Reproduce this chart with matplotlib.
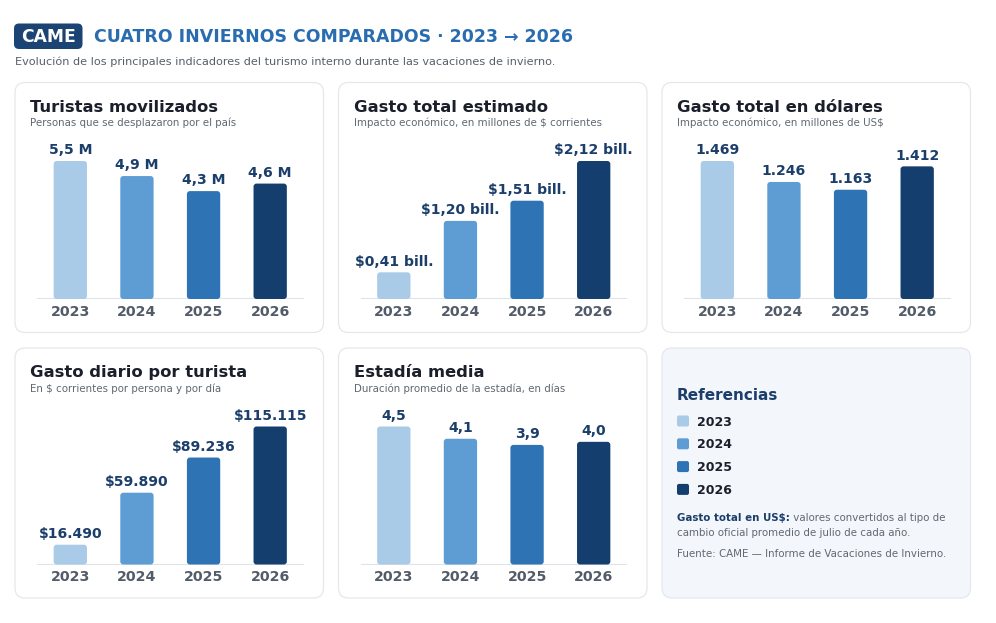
import matplotlib.pyplot as plt
from matplotlib.patches import FancyBboxPatch

plt.rcParams['font.family'] = ['DejaVu Sans']

W, H = 996, 623

years = ['2023', '2024', '2025', '2026']
colors = ['#a9cbe8', '#5e9dd4', '#2e73b4', '#143e6e']

turistas = [5.5, 4.9, 4.3, 4.6]
gasto_total = [0.41, 1.20, 1.51, 2.12]
gasto_usd = [1469, 1246, 1163, 1412]
gasto_diario = [16490, 59890, 89236, 115115]
estadia = [4.5, 4.1, 3.9, 4.0]

NAVY = '#1b3e6b'
DARK = '#1a1f2b'
GRAY = '#5f6873'
TICK = '#525b68'


def miles(v):
    return f'{v:,}'.replace(',', '.')


def coma(v, d):
    return f'{v:.{d}f}'.replace('.', ',')


panels = [
    ('Turistas movilizados', 'Personas que se desplazaron por el país',
     turistas, lambda v: coma(v, 1) + ' M'),
    ('Gasto total estimado', 'Impacto económico, en millones de $ corrientes',
     gasto_total, lambda v: '$' + coma(v, 2) + ' bill.'),
    ('Gasto total en dólares', 'Impacto económico, en millones de US$',
     gasto_usd, miles),
    ('Gasto diario por turista', 'En $ corrientes por persona y por día',
     gasto_diario, lambda v: '$' + miles(v)),
    ('Estadía media', 'Duración promedio de la estadía, en días',
     estadia, lambda v: coma(v, 1)),
]

card_x = [15, 338.5, 662]
card_y = [82.5, 348]
card_w, card_h = 308.5, 250

fig = plt.figure(figsize=(W / 100, H / 100), dpi=100, facecolor='white')
bg = fig.add_axes([0, 0, 1, 1])
bg.set_xlim(0, W)
bg.set_ylim(H, 0)
bg.axis('off')

# header
bg.add_patch(FancyBboxPatch((14, 23.5), 68.5, 25.5, boxstyle='round,pad=0,rounding_size=5',
                            fc='#1b4474', ec='none'))
bg.text(48.2, 42.3, 'CAME', color='white', fontsize=12.3, fontweight='bold',
        ha='center', va='baseline')
bg.text(93.5, 42.3, 'CUATRO INVIERNOS COMPARADOS · 2023 → 2026', color='#2a6cb0',
        fontsize=12.5, fontweight='bold', va='baseline')
bg.text(15, 65, 'Evolución de los principales indicadores del turismo interno durante '
        'las vacaciones de invierno.', color='#555f6b', fontsize=8.15, va='baseline')

AX_H = 158.7
for k, (title, sub, vals, fmt) in enumerate(panels):
    x0 = card_x[k % 3]
    y0 = card_y[k // 3]
    bg.add_patch(FancyBboxPatch((x0, y0), card_w, card_h, boxstyle='round,pad=0,rounding_size=10',
                                fc='white', ec='#e4e8ed', lw=0.9))
    bg.text(x0 + 15, y0 + 29, title, color=DARK, fontsize=11.75, fontweight='bold', va='baseline')
    bg.text(x0 + 15, y0 + 43.5, sub, color=GRAY, fontsize=7.35, va='baseline')

    base = y0 + 216.5
    ax_w = card_w - 42
    ax = fig.add_axes([(x0 + 22) / W, 1 - base / H, ax_w / W, AX_H / H])
    ax.patch.set_alpha(0)
    ymax = max(vals) * 1.15
    ax.set_xlim(-0.5, 3.5)
    ax.set_ylim(0, ymax)
    aspect = (ymax / AX_H) / (4 / ax_w)
    for i, v in enumerate(vals):
        ax.add_patch(FancyBboxPatch((i - 0.25, 0), 0.5, v,
                                    boxstyle=f'round,pad=0,rounding_size={3 * 4 / ax_w}',
                                    mutation_aspect=aspect, fc=colors[i], ec='none', zorder=2))
        ax.annotate(fmt(v), (i, v), xytext=(0, 4.8), textcoords='offset points',
                    ha='center', va='baseline', fontsize=10.1, fontweight='bold', color=NAVY)
    ax.axhline(0, color='#dde3ea', lw=1.5, zorder=1)
    ax.set_xticks(range(4), years)
    ax.set_yticks([])
    ax.tick_params(length=0, pad=4, labelsize=10.2, labelcolor=TICK)
    for lbl in ax.get_xticklabels():
        lbl.set_fontweight('bold')
    for s in ax.spines.values():
        s.set_visible(False)

# legend card
lx, ly = card_x[2], card_y[1]
bg.add_patch(FancyBboxPatch((lx, ly), card_w, card_h, boxstyle='round,pad=0,rounding_size=10',
                            fc='#f3f6fa', ec='#e4e8ed', lw=0.9))
bg.text(677, 400, 'Referencias', color=NAVY, fontsize=11, fontweight='bold', va='baseline')
for i, yr in enumerate(years):
    cy = 421 + i * 22.8
    bg.add_patch(FancyBboxPatch((677, cy - 5.5), 12, 11, boxstyle='round,pad=0,rounding_size=2',
                                fc=colors[i], ec='none'))
    bg.text(697, cy + 4.5, yr, color=DARK, fontsize=9, fontweight='bold', va='baseline')

t = bg.text(677, 520.7, 'Gasto total en US$:', color=NAVY, fontsize=7.4, fontweight='bold',
            va='baseline')
bg.annotate(' valores convertidos al tipo de', xy=(1, 0), xycoords=t, va='bottom',
            color=GRAY, fontsize=7.4)
bg.text(677, 535.7, 'cambio oficial promedio de julio de cada año.', color=GRAY, fontsize=7.4,
        va='baseline')
bg.text(677, 556.7, 'Fuente: CAME — Informe de Vacaciones de Invierno.', color=GRAY, fontsize=7.4,
        va='baseline')

fig.savefig('out.png', dpi=100)
